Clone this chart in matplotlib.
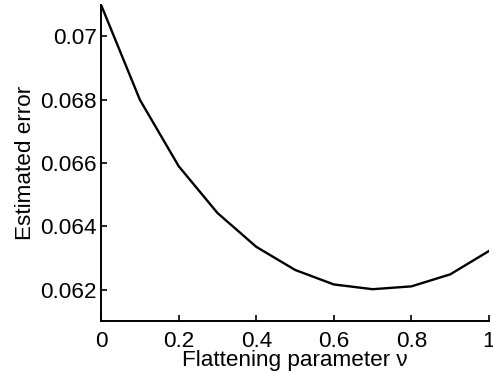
import matplotlib
matplotlib.use("Agg")
import matplotlib.pyplot as plt

# estimated error against the flattening parameter
nu = [0.0, 0.1, 0.2, 0.3, 0.4, 0.5, 0.6, 0.7, 0.8, 0.9, 1.0]
err = [0.0710, 0.0680, 0.06590, 0.06442, 0.06335, 0.06262, 0.06216,
       0.06201, 0.06210, 0.06248, 0.06322]

x_ticks = [0, 0.2, 0.4, 0.6, 0.8, 1]
x_tick_labels = ["0", "0.2", "0.4", "0.6", "0.8", "1"]
y_ticks = [0.062, 0.064, 0.066, 0.068, 0.070]
y_tick_labels = ["0.062", "0.064", "0.066", "0.068", "0.07"]

plt.rcParams["font.family"] = ["Liberation Sans", "DejaVu Sans"]

fig = plt.figure(figsize=(4.93, 3.73), dpi=100)
ax = fig.add_axes([0.205, 0.139, 0.787, 0.848])

ax.plot(nu, err, color="black", linewidth=1.7)

ax.set_xlim(0, 1)
ax.set_ylim(0.061, 0.071)
ax.set_xticks(x_ticks)
ax.set_xticklabels(x_tick_labels)
ax.set_yticks(y_ticks)
ax.set_yticklabels(y_tick_labels)

for side in ("top", "right"):
    ax.spines[side].set_visible(False)
for side in ("left", "bottom"):
    ax.spines[side].set_linewidth(1.4)

ax.tick_params(axis="both", direction="in", length=4, width=1.2,
               labelsize=16.2)
ax.tick_params(axis="x", pad=7)
ax.tick_params(axis="y", pad=3)

ax.set_xlabel("Flattening parameter \u03bd", fontsize=16.2, labelpad=-1)
ax.set_ylabel("Estimated error", fontsize=16.2, labelpad=3)

fig.savefig("out.png", dpi=100)
